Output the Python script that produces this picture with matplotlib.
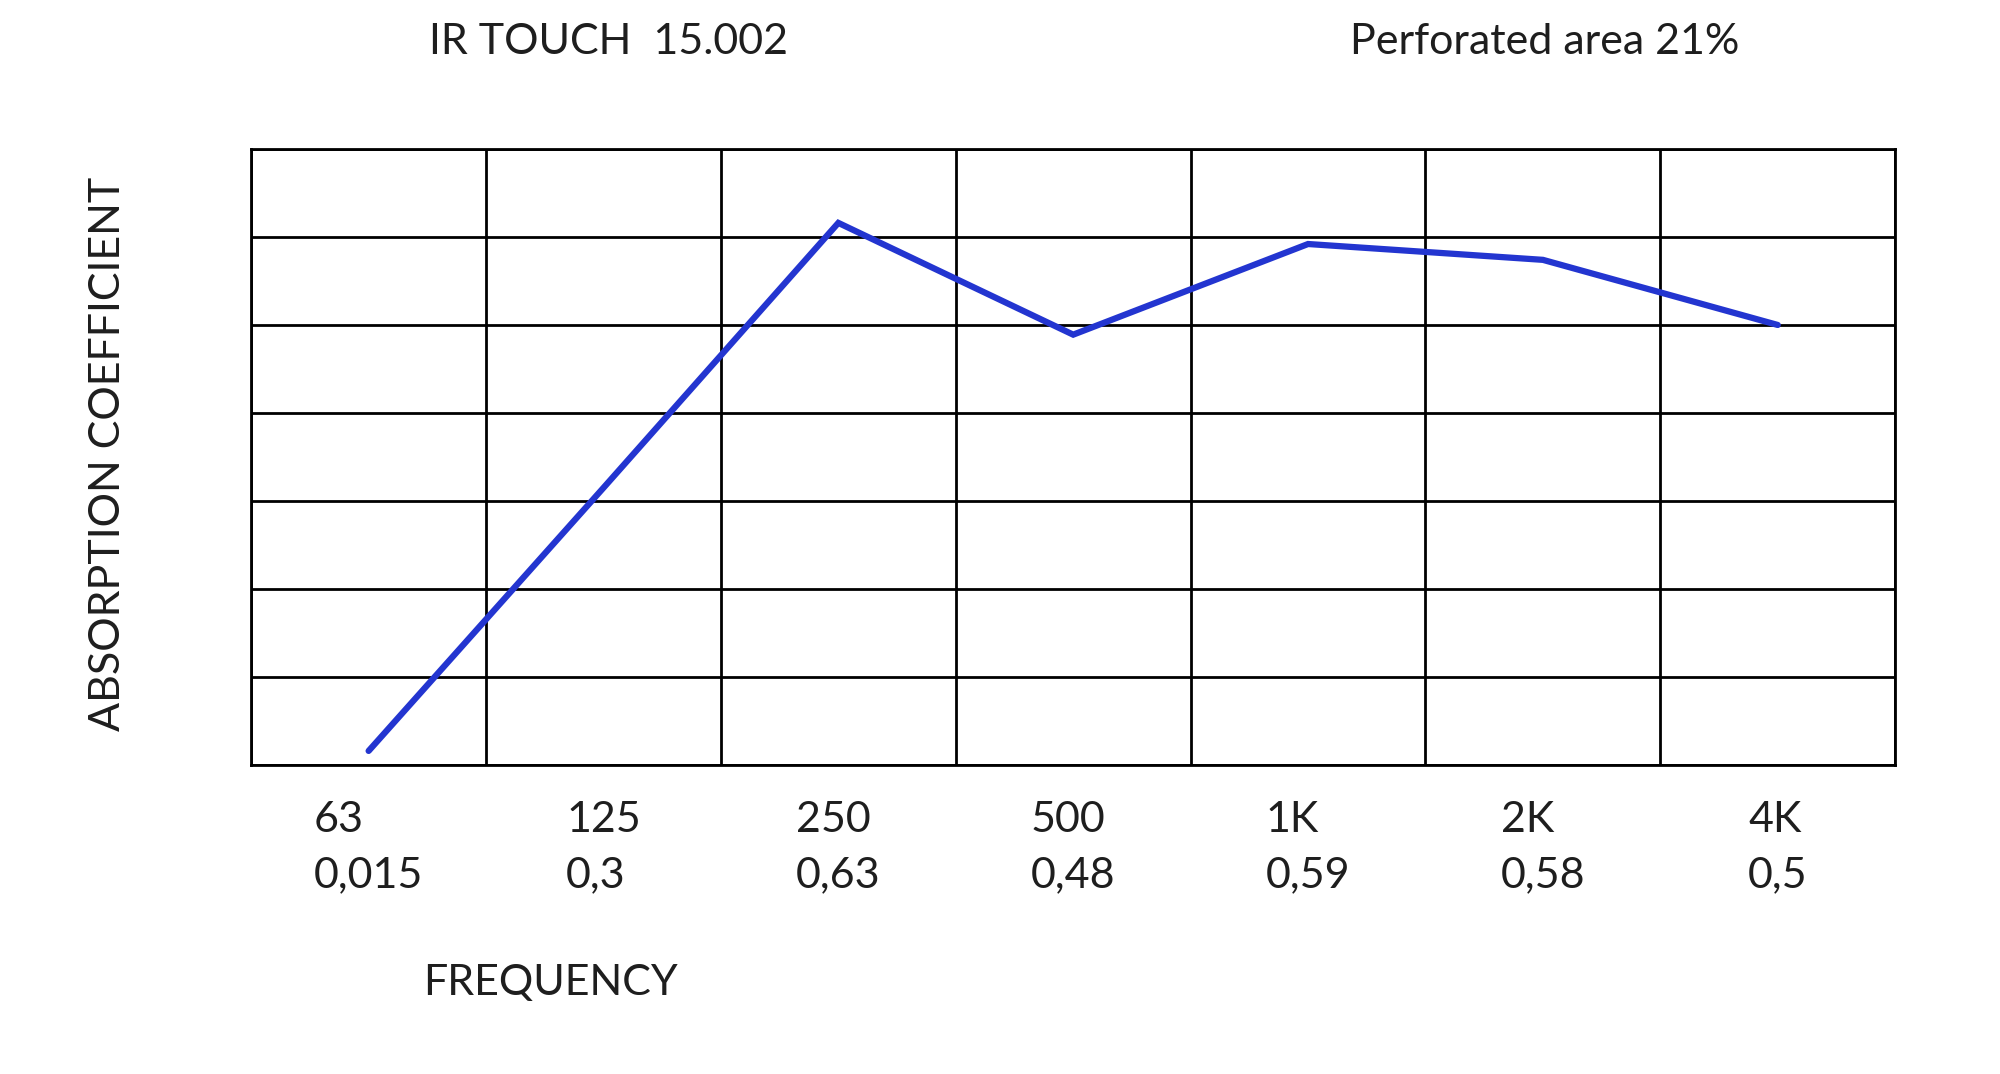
import matplotlib
matplotlib.use('Agg')
import matplotlib.pyplot as plt
import numpy as np


freqs = ['63', '125', '250', '500', '1K', '2K', '4K']
# values as printed under the axis
alpha_labels = ['0,015', '0,3', '0,63', '0,48', '0,59', '0,58', '0,5']
# values as the blue curve is actually drawn
alpha_curve = [0.016, 0.315, 0.616, 0.489, 0.592, 0.574, 0.50]
y_grid = [0.0, 0.1, 0.2, 0.3, 0.4, 0.5, 0.6, 0.7]

font = 'Lato'
fs = 31
txt_color = '#1e1e1e'
plt.rcParams['font.family'] = [font, 'DejaVu Sans']
plt.rcParams['font.weight'] = 'normal'

fig = plt.figure(figsize=(20, 10.74), dpi=100)
ax = fig.add_axes([0.1256, 0.2877, 0.822, 0.5736])

x = np.arange(len(freqs)) + 0.5

# grid
for gx in range(len(freqs) + 1):
    ax.axvline(gx, color='black', lw=2, zorder=1)
for gy in y_grid:
    ax.axhline(gy, color='black', lw=2, zorder=1)

ax.plot(x, alpha_curve, color='#2335d0', lw=4.5, solid_capstyle='round',
        solid_joinstyle='miter', zorder=3)

ax.set_xlim(0, len(freqs))
ax.set_ylim(y_grid[0], y_grid[-1])
for s in ax.spines.values():
    s.set_linewidth(2)
ax.set_yticks([])
ax.set_xticks(x)
ax.set_xticklabels([f'{f}\n{a}' for f, a in zip(freqs, alpha_labels)],
                   fontsize=fs, color=txt_color, multialignment='left',
                   linespacing=1.55)
ax.tick_params(axis='x', length=0, pad=26)

fig.text(0.2145, 0.961, 'IR TOUCH  15.002', fontsize=fs, color=txt_color,
         ha='left', va='center')
fig.text(0.675, 0.961, 'Perforated area 21%', fontsize=fs, color=txt_color,
         ha='left', va='center')
fig.text(0.054, 0.577, 'ABSORPTION COEFFICIENT', fontsize=fs, color=txt_color,
         rotation=90, ha='center', va='center')
fig.text(0.2115, 0.0847, 'FREQUENCY', fontsize=fs, color=txt_color,
         ha='left', va='center')

fig.savefig('out.png', dpi=100, facecolor='white')
